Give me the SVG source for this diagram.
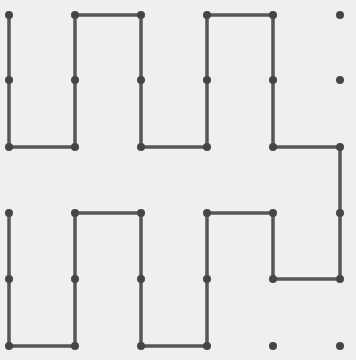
<svg xmlns="http://www.w3.org/2000/svg" width="356" height="360" viewBox="0 0 356 360">
<style>
.bg{fill:#efefef}
.e{stroke:#575757;stroke-width:3.5;fill:none;stroke-linecap:square}
.d{fill:#454545}
</style>
<rect class="bg" width="356" height="360"/>
<g id="connectors">
<polyline class="e" points="9,15 9,80 9,147 75,147 75,80 75,15 141,15 141,80 141,147 207,147 207,80 207,15 273,15 273,80 273,147 340,147 340,213 340,279 273,279 273,213 207,213 207,279 207,346 141,346 141,279 141,213 75,213 75,279 75,346 9,346 9,279 9,213"/>
</g>
<g id="nodes">
<g id="n0_0"><circle class="d" cx="9" cy="15" r="4"/></g>
<g id="n0_1"><circle class="d" cx="9" cy="80" r="4"/></g>
<g id="n0_2"><circle class="d" cx="9" cy="147" r="4"/></g>
<g id="n0_3"><circle class="d" cx="9" cy="213" r="4"/></g>
<g id="n0_4"><circle class="d" cx="9" cy="279" r="4"/></g>
<g id="n0_5"><circle class="d" cx="9" cy="346" r="4"/></g>
<g id="n1_0"><circle class="d" cx="75" cy="15" r="4"/></g>
<g id="n1_1"><circle class="d" cx="75" cy="80" r="4"/></g>
<g id="n1_2"><circle class="d" cx="75" cy="147" r="4"/></g>
<g id="n1_3"><circle class="d" cx="75" cy="213" r="4"/></g>
<g id="n1_4"><circle class="d" cx="75" cy="279" r="4"/></g>
<g id="n1_5"><circle class="d" cx="75" cy="346" r="4"/></g>
<g id="n2_0"><circle class="d" cx="141" cy="15" r="4"/></g>
<g id="n2_1"><circle class="d" cx="141" cy="80" r="4"/></g>
<g id="n2_2"><circle class="d" cx="141" cy="147" r="4"/></g>
<g id="n2_3"><circle class="d" cx="141" cy="213" r="4"/></g>
<g id="n2_4"><circle class="d" cx="141" cy="279" r="4"/></g>
<g id="n2_5"><circle class="d" cx="141" cy="346" r="4"/></g>
<g id="n3_0"><circle class="d" cx="207" cy="15" r="4"/></g>
<g id="n3_1"><circle class="d" cx="207" cy="80" r="4"/></g>
<g id="n3_2"><circle class="d" cx="207" cy="147" r="4"/></g>
<g id="n3_3"><circle class="d" cx="207" cy="213" r="4"/></g>
<g id="n3_4"><circle class="d" cx="207" cy="279" r="4"/></g>
<g id="n3_5"><circle class="d" cx="207" cy="346" r="4"/></g>
<g id="n4_0"><circle class="d" cx="273" cy="15" r="4"/></g>
<g id="n4_1"><circle class="d" cx="273" cy="80" r="4"/></g>
<g id="n4_2"><circle class="d" cx="273" cy="147" r="4"/></g>
<g id="n4_3"><circle class="d" cx="273" cy="213" r="4"/></g>
<g id="n4_4"><circle class="d" cx="273" cy="279" r="4"/></g>
<g id="n4_5"><circle class="d" cx="273" cy="346" r="4"/></g>
<g id="n5_0"><circle class="d" cx="340" cy="15" r="4"/></g>
<g id="n5_1"><circle class="d" cx="340" cy="80" r="4"/></g>
<g id="n5_2"><circle class="d" cx="340" cy="147" r="4"/></g>
<g id="n5_3"><circle class="d" cx="340" cy="213" r="4"/></g>
<g id="n5_4"><circle class="d" cx="340" cy="279" r="4"/></g>
<g id="n5_5"><circle class="d" cx="340" cy="346" r="4"/></g>
</g>
</svg>
